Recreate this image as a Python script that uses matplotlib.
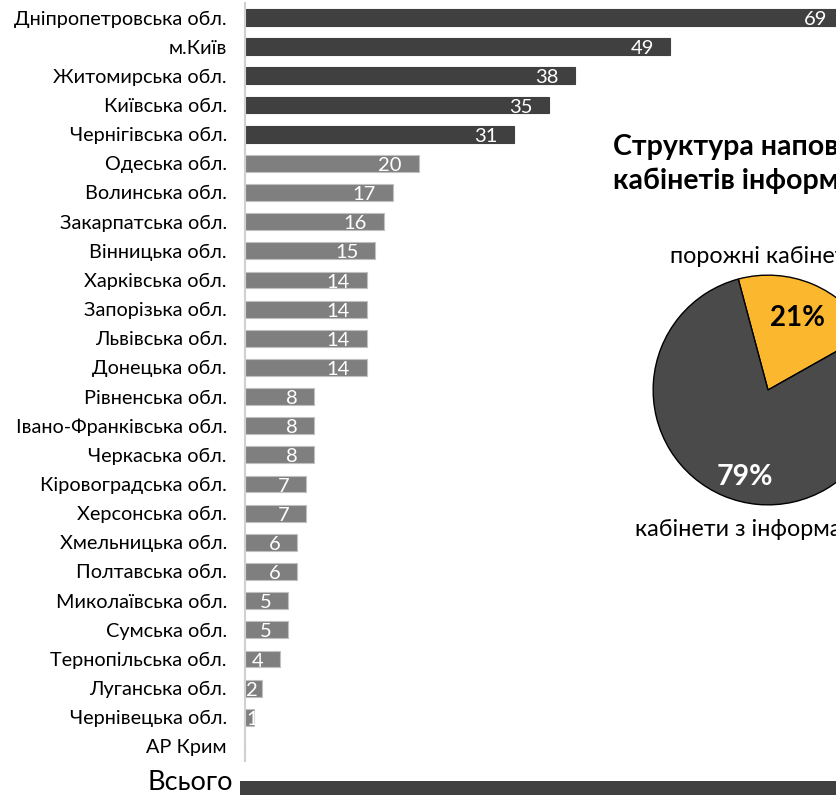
import numpy as np
import matplotlib.pyplot as plt

plt.rcParams['font.family'] = ['Lato', 'DejaVu Sans']

regions = ['Дніпропетровська обл.', 'м.Київ', 'Житомирська обл.', 'Київська обл.',
           'Чернігівська обл.', 'Одеська обл.', 'Волинська обл.', 'Закарпатська обл.',
           'Вінницька обл.', 'Харківська обл.', 'Запорізька обл.', 'Львівська обл.',
           'Донецька обл.', 'Рівненська обл.', 'Івано-Франківська обл.', 'Черкаська обл.',
           'Кіровоградська обл.', 'Херсонська обл.', 'Хмельницька обл.', 'Полтавська обл.',
           'Миколаївська обл.', 'Сумська обл.', 'Тернопільська обл.', 'Луганська обл.',
           'Чернівецька обл.', 'АР Крим']
counts = [69, 49, 38, 35, 31, 20, 17, 16, 15, 14, 14, 14, 14, 8, 8, 8, 7, 7, 6, 6, 5, 5, 4, 2, 1, 0]
n_dark = 5

total_label = 'Всього'
total_value = sum(counts)

pie_labels = ['порожні кабінети', 'кабінети з інформацією']
pie_shares = [21, 79]
pie_title = 'Структура наповнення\nкабінетів інформацією'

W, H = 837, 795
fig = plt.figure(figsize=(W / 100, H / 100), dpi=100)

def px_axes(x0, y0, x1, y1):
    # pixel box (top-left origin) -> figure axes
    return fig.add_axes([x0 / W, 1 - y1 / H, (x1 - x0) / W, (y1 - y0) / H])

dark = '#404040'
grey = '#7f7f7f'

# main bar chart
ax = px_axes(245, 3, 837, 761)
y = np.arange(len(regions))
cols = [dark] * n_dark + [grey] * (len(regions) - n_dark)
edges = [dark] * n_dark + ['#c0c0c0'] * (len(regions) - n_dark)
ax.barh(y, counts, height=0.58, color=cols, edgecolor=edges, linewidth=0.8)
ax.set_ylim(len(regions) - 0.5, -0.5)
ax.set_xlim(0, 68.2)
ax.set_yticks(y)
ax.set_yticklabels(regions, fontsize=14.3)
ax.tick_params(axis='y', length=0, pad=13)
ax.set_xticks([])
for s in ['top', 'right', 'bottom']:
    ax.spines[s].set_visible(False)
ax.spines['left'].set_color('#d0d0d0')
ax.spines['left'].set_linewidth(1.5)

for i, v in enumerate(counts):
    if v == 0:
        continue
    if v < 3:
        ax.annotate(str(v), (0, i), xytext=(1, -1.5), textcoords='offset points',
                    ha='left', va='center', color='white', fontsize=14.5, annotation_clip=False)
    else:
        ax.annotate(str(v), (v, i), xytext=(-12, -1.5), textcoords='offset points',
                    ha='right', va='center', color='white', fontsize=14.5, annotation_clip=False)

# total bar at the bottom
axt = px_axes(240, 781, 837, 809)
axt.barh([0], [total_value], height=1.0, color=dark)
axt.set_xlim(0, 300)
axt.set_ylim(-0.5, 0.5)
axt.axis('off')
fig.text(233 / W, 1 - 783 / H, total_label, ha='right', va='center', fontsize=19.5)

# pie inset
cx, cy, r = 768, 390, 116
axp = px_axes(cx - r, cy - r, cx + r, cy + r)
axp.pie(pie_shares, colors=['#fbb82f', '#4a4a4a'], startangle=105, counterclock=False,
        wedgeprops=dict(edgecolor='black', linewidth=1.0), radius=1.0)
axp.set_xlim(-1.01, 1.01)
axp.set_ylim(-1.01, 1.01)
axp.set_aspect('equal')
axp.axis('off')

fig.text(613 / W, 1 - 164 / H, pie_title, ha='left', va='center', fontsize=20.5,
         fontweight='bold', linespacing=1.35)
fig.text(670 / W, 1 - 257 / H, pie_labels[0], ha='left', va='center', fontsize=16.8)
fig.text(635 / W, 1 - 530 / H, pie_labels[1], ha='left', va='center', fontsize=16.8)
fig.text(798 / W, 1 - 318 / H, f'{pie_shares[0]}%', ha='center', va='center',
         fontsize=20, fontweight='bold', color='black')
fig.text(745 / W, 1 - 477 / H, f'{pie_shares[1]}%', ha='center', va='center',
         fontsize=20.5, fontweight='bold', color='white')

fig.savefig('out.png', dpi=100)
